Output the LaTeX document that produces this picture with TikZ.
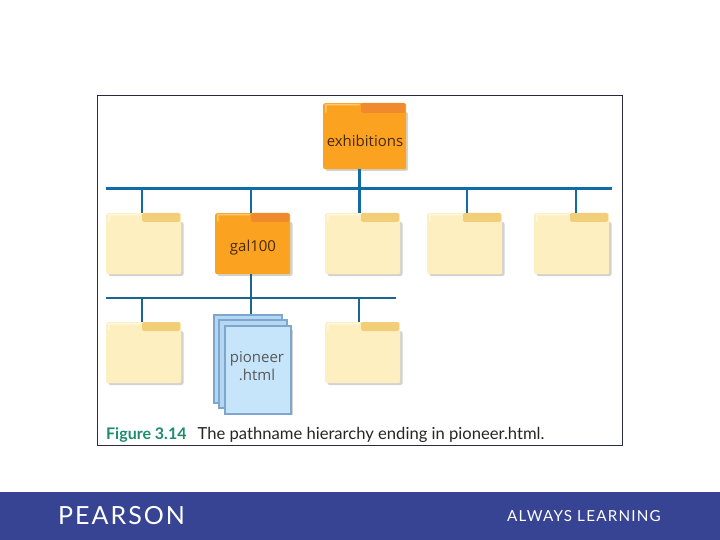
\documentclass[tikz,border=0pt]{standalone}
\usepackage{fontspec}
\setmainfont{Open Sans}
\newfontfamily\barfont[LetterSpace=8]{Lato}
\newfontfamily\capfont{Lato}
\definecolor{busblue}{HTML}{0F6CA6}
\definecolor{busdark}{HTML}{1B668F}
\definecolor{orangebody}{HTML}{FBA320}
\definecolor{orangetab}{HTML}{F08A2E}
\definecolor{orangelight}{HTML}{FCC878}
\definecolor{creambody}{HTML}{FDEFC0}
\definecolor{creamtab}{HTML}{F2CE78}
\definecolor{creamlight}{HTML}{FFF8E0}
\definecolor{shadowgray}{HTML}{D2D2CE}
\definecolor{docfill}{HTML}{C6E5FA}
\definecolor{docback}{HTML}{B4D8F2}
\definecolor{docline}{HTML}{7FA6CE}
\definecolor{framecol}{HTML}{2A2A40}
\definecolor{barblue}{HTML}{374493}
\definecolor{figgreen}{HTML}{1E8C6E}
\tikzset{
  folderbox/.style={rectangle,rounded corners=2pt,minimum width=75pt,minimum height=61pt,inner sep=0pt,anchor=north west},
  orangef/.style={folderbox,fill=orangebody},
  creamf/.style={folderbox,fill=creambody},
  sheet/.style={rectangle,draw=docline,line width=2pt,fill=docback,anchor=north west,inner sep=0pt},
  foldertext/.style={font=\fontsize{15pt}{18pt}\selectfont,text=black!70!orangetab,inner sep=0pt},
  bus/.style={busblue,line width=3pt},
  drop/.style={busblue,line width=2.2pt},
  bustwo/.style={busdark,line width=2pt},
}
% #1 name, #2 x, #3 y, #4 style, #5 tab colour, #6 highlight
\newcommand{\folderat}[6]{%
  \fill[shadowgray,rounded corners=2pt] (#2+2.5,#3+9) rectangle (#2+77.5,#3+63);
  \node[#4] (#1) at (#2,#3) {};
  \fill[#5,rounded corners=1.5pt] (#2+36,#3) rectangle (#2+74,#3+9);
  \fill[#6,rounded corners=1pt] (#2+2,#3+1) rectangle (#2+35,#3+2.5);
  \fill[#6,rounded corners=1pt] (#2+2,#3+1) rectangle (#2+3.5,#3+9);
}
\begin{document}
\begin{tikzpicture}[x=1pt,y=-1pt]
\useasboundingbox (0,0) rectangle (720,540);
\fill[white] (0,0) rectangle (720,540);
\node[rectangle,draw=framecol,line width=0.7pt,minimum width=525pt,minimum height=350pt,inner sep=0pt,anchor=north west] (frame) at (97,95) {};
% folders
\fill[shadowgray,rounded corners=2pt] (325.5,112) rectangle (408,171);
\node[orangef,minimum width=83pt,minimum height=66pt] (exh) at (323,103) {};
\fill[orangetab,rounded corners=1.5pt] (361,103) rectangle (405,113);
\fill[orangelight,rounded corners=1pt] (325,104) rectangle (360,105.5);
\fill[orangelight,rounded corners=1pt] (325,104) rectangle (326.5,113);
\node[foldertext] (exhlabel) at (365,141) {exhibitions};
\folderat{fa}{106}{213}{creamf}{creamtab}{creamlight}
\folderat{gal}{215}{213}{orangef}{orangetab}{orangelight}
\node[foldertext] (gallabel) at (253,248) {gal100};
\folderat{fc}{325}{213}{creamf}{creamtab}{creamlight}
\folderat{fd}{427}{213}{creamf}{creamtab}{creamlight}
\folderat{fe}{534}{213}{creamf}{creamtab}{creamlight}
\folderat{ga}{106}{322}{creamf}{creamtab}{creamlight}
\folderat{gc}{325}{322}{creamf}{creamtab}{creamlight}
% document stack
\node[sheet,minimum width=68pt,minimum height=88pt] (docc) at (212.5,313.5) {};
\node[sheet,minimum width=68pt,minimum height=88pt] (docb) at (218,319) {};
\fill[shadowgray] (226,330) rectangle (293,415);
\node[sheet,fill=docfill,minimum width=66pt,minimum height=88pt] (doc) at (224,325) {};
\node[align=center,inner sep=0pt,font=\fontsize{15pt}{18pt}\selectfont,text=black!65] (doclabel) at (257,366.5) {pioneer\\.html};
% bus 1
\coordinate (b1l) at (106,188.3);
\coordinate (b1r) at (612,188.3);
\draw[bus] (b1l) -- (b1r);
\coordinate (b1a) at (142,188);
\coordinate (b1b) at (251,188);
\coordinate (b1c) at (359,188);
\coordinate (b1d) at (467,188);
\coordinate (b1e) at (576,188);
\draw[bus] (exh.south -| b1c) -- (fc.north -| b1c);
\draw[drop] (b1a) -- (fa.north -| b1a);
\draw[drop] (b1b) -- (gal.north -| b1b);
\draw[drop] (b1d) -- (fd.north -| b1d);
\draw[drop] (b1e) -- (fe.north -| b1e);
% bus 2
\coordinate (b2l) at (106,297.5);
\coordinate (b2r) at (396,297.5);
\draw[bustwo] (b2l) -- (b2r);
\coordinate (b2a) at (142,297.5);
\coordinate (b2b) at (251,297.5);
\coordinate (b2c) at (359,297.5);
\draw[bustwo] (b2a) -- (ga.north -| b2a);
\draw[bustwo] (gal.south -| b2b) -- (docc.north -| b2b);
\draw[bustwo] (b2c) -- (gc.north -| b2c);
% caption
\node[anchor=base west,inner sep=0pt,text=figgreen,font=\capfont\bfseries\fontsize{16pt}{18pt}\selectfont] (figlabel) at (106,439) {Figure 3.14};
\node[anchor=base west,inner sep=0pt,text=black!85,font=\capfont\fontsize{16.6pt}{18pt}\selectfont] (figtext) at (197.5,439) {The pathname hierarchy ending in pioneer.html.};
% bar
\node[rectangle,fill=barblue,minimum width=720pt,minimum height=48pt,inner sep=0pt,anchor=north west] (bar) at (0,492) {};
\node[anchor=base west,inner sep=0pt,text=white,font=\barfont\fontsize{25pt}{28pt}\selectfont] (pearson) at (58,524.5) {PEARSON};
\node[anchor=base west,inner sep=0pt,text=white,font=\barfont\fontsize{15.2pt}{17pt}\selectfont] (always) at (507,521) {ALWAYS LEARNING};
\end{tikzpicture}
\end{document}
